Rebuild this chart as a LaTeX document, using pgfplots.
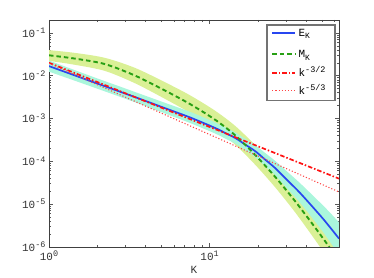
\documentclass[border=0pt]{standalone}
\usepackage{pgfplots}
\pgfplotsset{compat=1.18}
\usepgfplotslibrary{fillbetween}
\usetikzlibrary{calc}
\usepackage{fontspec}
\setmainfont{Liberation Mono}
\definecolor{eblue}{RGB}{40,70,240}
\definecolor{mgreen}{RGB}{40,160,20}
\definecolor{bandg}{RGB}{218,240,150}
\definecolor{bandc}{RGB}{170,246,220}
\definecolor{rthree}{RGB}{255,20,20}
\definecolor{rfive}{RGB}{255,70,70}
\definecolor{framegray}{RGB}{115,115,115}
\newcommand\sups[1]{\raisebox{0.6ex}{\fontsize{8.5}{9}\selectfont #1}}
\newcommand\subs[1]{\raisebox{-0.45ex}{\fontsize{8}{9}\selectfont #1}}
\pgfplotsset{
  eline/.style={draw=eblue, line width=1.7pt},
  mline/.style={draw=mgreen, line width=1.9pt, dash pattern=on 4.5pt off 3pt},
  r3line/.style={draw=rthree, line width=1.7pt, dash pattern=on 4.5pt off 2pt on 1.5pt off 2pt},
  r5line/.style={draw=rfive, line width=1.1pt, dash pattern=on 1.1pt off 2pt},
}
\begin{document}
\begin{tikzpicture}
\begin{axis}[
  scale only axis, width=290bp, height=226.7bp,
  xmode=log, ymode=log,
  xmin=1, xmax=64, ymin=1e-6, ymax=0.2,
  xtick={1,10}, xticklabels={10\sups{0},10\sups{1}},
  ytick={1e-6,1e-5,1e-4,1e-3,1e-2,1e-1},
  yticklabels={10\sups{-6},10\sups{-5},10\sups{-4},10\sups{-3},10\sups{-2},10\sups{-1}},
  minor xtick={2,3,4,5,6,7,8,9,20,30,40,50,60},
  minor ytick={2e-6,3e-6,4e-6,5e-6,6e-6,7e-6,8e-6,9e-6,
               2e-5,3e-5,4e-5,5e-5,6e-5,7e-5,8e-5,9e-5,
               2e-4,3e-4,4e-4,5e-4,6e-4,7e-4,8e-4,9e-4,
               2e-3,3e-3,4e-3,5e-3,6e-3,7e-3,8e-3,9e-3,
               2e-2,3e-2,4e-2,5e-2,6e-2,7e-2,8e-2,9e-2,0.2},
  tick align=inside,
  major tick length=4bp, minor tick length=2bp,
  axis line style={black!75},
  tick style={black!65, line width=0.4pt},
  tick label style={font=\fontsize{11}{12}\selectfont, text=black!80},
  xticklabel style={yshift=-1bp},
  xlabel={K},
  xlabel style={font=\fontsize{11}{12}\selectfont, text=black!80, yshift=1bp},
]
% bands
\addplot[draw=none, smooth, name path=cu, forget plot] coordinates {
 (1,0.02252) (1.352,0.01481) (1.936,8.99e-3) (2.694,5.76e-3) (3.696,3.752e-3)
 (5.292,2.306e-3) (7.580,1.416e-3) (10.85,8.04e-4) (12.53,6.14e-4) (14.47,4.69e-4)
 (16.70,3.321e-4) (19.28,2.354e-4) (22.26,1.541e-4) (25.70,1.009e-4) (30.52,5.66e-5)
 (36.80,3.008e-5) (49.05,1.056e-5) (55.8,6.47e-6) (64,3.713e-6)};
\addplot[draw=none, smooth, name path=cl, forget plot] coordinates {
 (1,0.01238) (1.352,8.33e-3) (1.936,5.17e-3) (2.694,3.317e-3) (3.696,2.159e-3)
 (5.292,1.297e-3) (7.580,7.78e-4) (10.85,4.418e-4) (12.53,3.373e-4) (14.47,2.576e-4)
 (16.70,1.784e-4) (19.28,1.235e-4) (22.26,7.55e-5) (25.70,4.61e-5) (30.52,2.253e-5)
 (36.80,1.043e-5) (49.05,2.653e-6) (55.8,1.351e-6) (64,6.45e-7)};
\addplot[draw=none, smooth, name path=gu, forget plot] coordinates {
 (1,0.03950) (1.453,0.03400) (2.235,0.02600) (3.440,0.01514) (5.292,6.98e-3)
 (7.580,3.449e-3) (10.85,1.504e-3) (14.47,6.64e-4) (19.28,2.360e-4) (25.70,7.46e-5)
 (34.24,2.071e-5) (45.64,5.34e-6) (56.62,1.876e-6) (64,9.96e-7)};
\addplot[draw=none, smooth, name path=gl, forget plot] coordinates {
 (1,0.02215) (1.453,0.01791) (2.235,0.01286) (3.440,6.61e-3) (5.292,2.843e-3)
 (7.580,1.341e-3) (10.85,5.72e-4) (14.47,2.409e-4) (19.28,8.18e-5) (25.70,2.414e-5)
 (34.24,6.25e-6) (45.64,1.405e-6) (56.62,4.30e-7) (64,2.08e-7)};
\addplot[bandg, forget plot] fill between[of=gu and gl];
\addplot[bandc, forget plot] fill between[of=cu and cl];
% lines
\addplot[eline, smooth, forget plot] coordinates {
 (1,0.01669) (1.352,0.01110) (1.936,6.82e-3) (2.694,4.372e-3) (3.696,2.847e-3)
 (5.292,1.729e-3) (7.580,1.050e-3) (10.85,5.96e-4) (12.53,4.551e-4) (14.47,3.475e-4)
 (16.70,2.434e-4) (19.28,1.706e-4) (22.26,1.078e-4) (25.70,6.82e-5) (30.52,3.570e-5)
 (36.80,1.771e-5) (49.05,5.29e-6) (55.8,2.956e-6) (64,1.548e-6)};
\addplot[mline, smooth, forget plot] coordinates {
 (1,2.988e-2) (1.453,2.501e-2) (2.235,1.859e-2) (3.440,1.0e-2) (5.292,4.454e-3)
 (7.580,2.150e-3) (10.85,9.27e-4) (14.47,3.998e-4) (19.28,1.389e-4) (25.70,4.242e-5)
 (34.24,1.138e-5) (45.64,2.741e-6) (56.62,8.98e-7) (64,4.55e-7)};
\addplot[r3line, forget plot] coordinates {(1,0.02) (64,3.906e-5)};
\addplot[r5line, forget plot] coordinates {(1,0.0195) (64,1.904e-5)};
% legend box
\draw[framegray, line width=1.2pt, fill=white] (rel axis cs:0.7517,0.6433) rectangle (rel axis cs:0.9862,0.978);
\addplot[eline, forget plot] coordinates {(24.61,0.1) (34.24,0.1)};
\addplot[mline, forget plot] coordinates {(24.61,0.03224) (34.24,0.03224)};
\addplot[r3line, forget plot] coordinates {(24.61,0.01157) (34.24,0.01157)};
\addplot[r5line, forget plot] coordinates {(24.61,4.454e-3) (34.24,4.454e-3)};
\node[anchor=base west, inner sep=0pt, font=\fontsize{11}{12}\selectfont] at (axis cs:35.75,0.0828) {E\subs{K}};
\node[anchor=base west, inner sep=0pt, font=\fontsize{11}{12}\selectfont] at (axis cs:35.75,0.02668) {M\subs{K}};
\node[anchor=base west, inner sep=0pt, font=\fontsize{11}{12}\selectfont] at (axis cs:35.75,9.58e-3) {k\sups{-3/2}};
\node[anchor=base west, inner sep=0pt, font=\fontsize{11}{12}\selectfont] at (axis cs:35.75,3.688e-3) {k\sups{-5/3}};
\end{axis}
\pgfresetboundingbox
\path[use as bounding box] ($(current axis.south west)+(-49bp,-31.3bp)$) rectangle ($(current axis.north east)+(35bp,20bp)$);
\end{tikzpicture}
\end{document}
